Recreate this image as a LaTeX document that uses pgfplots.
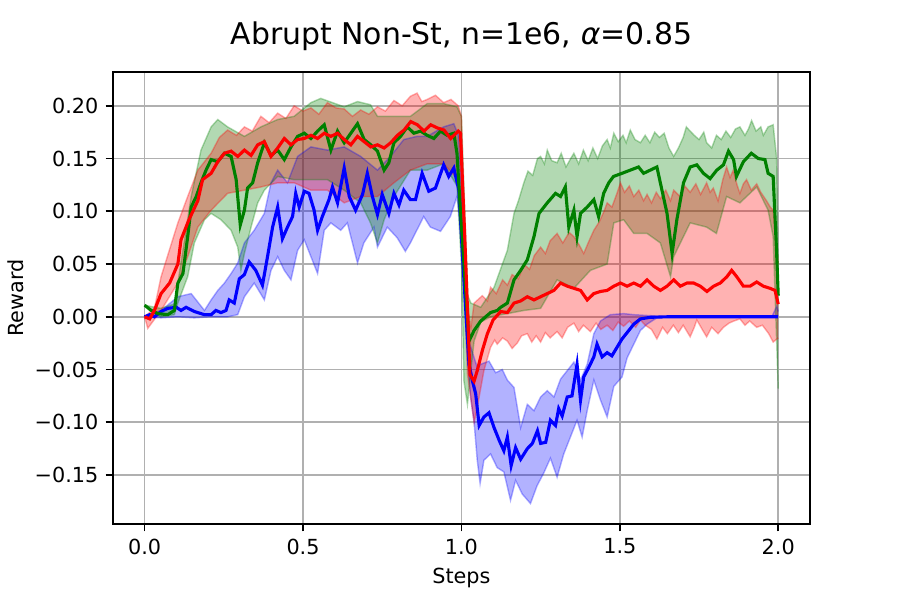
\documentclass[border=0pt]{standalone}
\usepackage{fontspec}
\setmainfont{DejaVu Sans}
\usepackage{pgfplots}
\pgfplotsset{compat=1.18}
\usepackage{pgfplotstable}
\usepgfplotslibrary{fillbetween}
\definecolor{mgreen}{rgb}{0,0.5,0}
\definecolor{gridgray}{HTML}{B0B0B0}

% ---------------- RED ----------------
\pgfplotstableread{
x y
0 0
0.016 -0.002
0.031 0.006
0.052 0.022
0.079 0.032
0.105 0.050
0.115 0.073
0.140 0.092
0.168 0.110
0.183 0.130
0.210 0.136
0.231 0.147
0.252 0.155
0.273 0.157
0.294 0.152
0.315 0.158
0.336 0.153
0.357 0.163
0.378 0.166
0.399 0.152
0.420 0.160
0.441 0.169
0.462 0.163
0.483 0.168
0.504 0.169
0.525 0.172
0.546 0.169
0.567 0.174
0.588 0.171
0.609 0.174
0.630 0.168
0.651 0.163
0.672 0.171
0.693 0.166
0.714 0.161
0.735 0.163
0.756 0.160
0.777 0.165
0.798 0.172
0.819 0.177
0.840 0.185
0.861 0.182
0.882 0.176
0.903 0.182
0.924 0.179
0.945 0.177
0.966 0.169
0.990 0.176
0.997 0.174
1.010 0.080
1.027 -0.055
1.040 -0.061
1.050 -0.051
1.066 -0.032
1.082 -0.016
1.100 -0.003
1.124 0.005
1.145 0.004
1.166 0.013
1.187 0.015
1.208 0.019
1.229 0.016
1.250 0.019
1.271 0.022
1.292 0.025
1.313 0.032
1.334 0.029
1.355 0.027
1.376 0.025
1.397 0.016
1.418 0.022
1.439 0.024
1.460 0.025
1.481 0.029
1.502 0.032
1.523 0.029
1.544 0.032
1.565 0.029
1.586 0.035
1.607 0.029
1.628 0.025
1.649 0.029
1.670 0.035
1.691 0.029
1.712 0.032
1.733 0.032
1.754 0.029
1.775 0.024
1.796 0.029
1.817 0.032
1.838 0.038
1.853 0.044
1.869 0.038
1.890 0.029
1.911 0.029
1.932 0.033
1.953 0.029
1.974 0.027
1.990 0.025
2.000 0.012
}\redM
\pgfplotstableread{
x y
0 0
0.031 0.008
0.052 0.038
0.105 0.089
0.136 0.114
0.168 0.139
0.210 0.155
0.236 0.170
0.262 0.177
0.290 0.172
0.315 0.180
0.340 0.176
0.367 0.190
0.393 0.184
0.420 0.193
0.446 0.188
0.472 0.200
0.500 0.195
0.525 0.198
0.550 0.192
0.577 0.203
0.604 0.198
0.630 0.197
0.656 0.190
0.682 0.196
0.708 0.192
0.735 0.199
0.760 0.195
0.787 0.205
0.813 0.200
0.839 0.209
0.860 0.212
0.875 0.204
0.892 0.206
0.918 0.210
0.944 0.203
0.967 0.206
0.990 0.200
1.000 0.190
1.015 0.020
1.030 -0.010
1.040 0.013
1.066 0.020
1.082 0.015
1.092 0.028
1.110 0.022
1.130 0.035
1.145 0.030
1.160 0.040
1.180 0.036
1.197 0.050
1.215 0.045
1.230 0.058
1.250 0.066
1.265 0.060
1.280 0.072
1.302 0.079
1.320 0.070
1.340 0.080
1.355 0.076
1.372 0.068
1.386 0.060
1.400 0.070
1.418 0.082
1.435 0.090
1.450 0.100
1.460 0.108
1.475 0.104
1.491 0.117
1.502 0.127
1.515 0.118
1.530 0.124
1.544 0.114
1.560 0.120
1.575 0.110
1.586 0.116
1.600 0.108
1.615 0.118
1.628 0.112
1.645 0.120
1.660 0.110
1.670 0.120
1.690 0.114
1.705 0.124
1.722 0.118
1.740 0.126
1.755 0.116
1.774 0.127
1.785 0.118
1.795 0.122
1.810 0.110
1.825 0.130
1.837 0.142
1.848 0.132
1.858 0.139
1.870 0.125
1.879 0.117
1.890 0.126
1.900 0.130
1.915 0.120
1.932 0.126
1.945 0.118
1.963 0.110
1.975 0.104
1.984 0.101
2.000 0.050
}\redH
\pgfplotstableread{
x y
0 0
0.010 -0.011
0.052 0.006
0.105 0.032
0.136 0.057
0.168 0.085
0.210 0.101
0.262 0.117
0.315 0.120
0.367 0.123
0.420 0.127
0.472 0.127
0.525 0.120
0.577 0.120
0.630 0.108
0.682 0.114
0.735 0.114
0.787 0.127
0.839 0.139
0.892 0.145
0.944 0.145
0.990 0.130
1.000 0.110
1.019 -0.054
1.040 -0.100
1.050 -0.086
1.071 -0.051
1.092 -0.029
1.105 -0.022
1.113 -0.026
1.130 -0.020
1.145 -0.023
1.160 -0.030
1.176 -0.025
1.190 -0.018
1.208 -0.016
1.222 -0.024
1.236 -0.018
1.250 -0.024
1.265 -0.015
1.280 -0.020
1.302 -0.014
1.318 -0.020
1.335 -0.010
1.355 -0.006
1.370 -0.014
1.385 -0.008
1.407 -0.014
1.425 -0.006
1.440 -0.012
1.460 -0.008
1.478 -0.013
1.495 -0.005
1.512 -0.009
1.530 -0.004
1.550 -0.010
1.565 -0.003
1.580 -0.008
1.600 -0.012
1.617 -0.021
1.635 -0.010
1.650 -0.016
1.669 -0.008
1.685 -0.015
1.700 -0.008
1.722 -0.019
1.735 -0.010
1.743 -0.003
1.760 -0.012
1.774 -0.019
1.790 -0.010
1.810 -0.016
1.827 -0.010
1.845 -0.006
1.860 -0.004
1.879 -0.002
1.895 -0.008
1.910 -0.004
1.932 -0.010
1.950 -0.008
1.970 -0.016
1.984 -0.024
2.000 -0.020
}\redL

% ---------------- GREEN ----------------
\pgfplotstableread{
x y
0 0.011
0.021 0.006
0.042 0.003
0.073 0.002
0.094 0.006
0.105 0.032
0.121 0.041
0.136 0.076
0.147 0.104
0.163 0.114
0.178 0.127
0.194 0.139
0.210 0.149
0.231 0.147
0.252 0.155
0.273 0.152
0.289 0.130
0.302 0.087
0.315 0.101
0.325 0.122
0.341 0.127
0.357 0.146
0.378 0.165
0.399 0.153
0.420 0.158
0.441 0.149
0.462 0.161
0.483 0.171
0.504 0.174
0.525 0.169
0.546 0.176
0.567 0.182
0.588 0.158
0.609 0.176
0.630 0.165
0.651 0.174
0.672 0.183
0.693 0.168
0.714 0.163
0.735 0.157
0.756 0.139
0.771 0.146
0.787 0.165
0.808 0.171
0.829 0.180
0.850 0.174
0.871 0.176
0.892 0.172
0.913 0.169
0.934 0.176
0.955 0.172
0.976 0.174
0.986 0.155
0.997 0.100
1.024 -0.023
1.040 -0.013
1.061 -0.004
1.092 0.004
1.113 0.006
1.124 0.009
1.145 0.013
1.166 0.035
1.187 0.044
1.208 0.054
1.229 0.076
1.245 0.098
1.271 0.108
1.297 0.117
1.313 0.114
1.328 0.123
1.339 0.085
1.355 0.101
1.365 0.076
1.376 0.098
1.397 0.104
1.418 0.111
1.433 0.095
1.449 0.117
1.465 0.127
1.480 0.133
1.507 0.136
1.533 0.139
1.559 0.142
1.575 0.136
1.596 0.139
1.617 0.142
1.633 0.120
1.649 0.098
1.665 0.060
1.680 0.092
1.701 0.127
1.722 0.142
1.743 0.144
1.764 0.136
1.785 0.131
1.806 0.139
1.827 0.144
1.843 0.157
1.859 0.149
1.868 0.133
1.890 0.147
1.915 0.155
1.937 0.150
1.958 0.149
1.968 0.136
1.984 0.133
1.995 0.060
2.000 0.020
}\grnM
\pgfplotstableread{
x y
0 0.011
0.050 0.008
0.094 0.012
0.105 0.032
0.147 0.114
0.178 0.158
0.210 0.180
0.231 0.187
0.262 0.180
0.315 0.171
0.367 0.180
0.420 0.187
0.472 0.190
0.525 0.203
0.556 0.207
0.630 0.199
0.672 0.204
0.713 0.201
0.735 0.190
0.787 0.190
0.839 0.190
0.892 0.202
0.944 0.202
0.986 0.199
1.000 0.190
1.020 0.020
1.030 0.013
1.061 0.009
1.103 0.028
1.145 0.063
1.166 0.098
1.180 0.110
1.197 0.127
1.210 0.138
1.225 0.134
1.240 0.150
1.250 0.152
1.262 0.145
1.271 0.158
1.285 0.148
1.302 0.146
1.315 0.155
1.330 0.142
1.345 0.150
1.355 0.155
1.370 0.145
1.385 0.158
1.400 0.148
1.415 0.160
1.430 0.150
1.445 0.162
1.460 0.168
1.470 0.160
1.481 0.174
1.495 0.166
1.510 0.172
1.520 0.165
1.533 0.177
1.548 0.168
1.565 0.165
1.580 0.172
1.595 0.165
1.610 0.175
1.625 0.170
1.640 0.174
1.655 0.160
1.670 0.152
1.685 0.160
1.700 0.170
1.710 0.180
1.722 0.176
1.735 0.172
1.750 0.168
1.765 0.175
1.774 0.165
1.790 0.160
1.805 0.172
1.820 0.168
1.835 0.176
1.850 0.170
1.865 0.178
1.879 0.180
1.895 0.172
1.906 0.178
1.916 0.186
1.930 0.176
1.945 0.180
1.953 0.172
1.968 0.180
1.984 0.182
1.995 0.150
2.000 0.030
}\grnH
\pgfplotstableread{
x y
0 0.011
0.050 0.000
0.094 0.002
0.105 0.013
0.136 0.038
0.157 0.070
0.189 0.092
0.210 0.098
0.241 0.092
0.273 0.082
0.294 0.066
0.304 0.044
0.315 0.060
0.336 0.085
0.357 0.108
0.378 0.120
0.420 0.133
0.472 0.130
0.525 0.130
0.577 0.130
0.630 0.120
0.682 0.108
0.713 0.089
0.735 0.070
0.756 0.092
0.787 0.114
0.839 0.139
0.892 0.139
0.944 0.145
0.986 0.124
1.000 0.050
1.008 -0.061
1.019 -0.083
1.030 -0.050
1.040 -0.023
1.061 -0.005
1.092 0.000
1.145 0.003
1.197 0.006
1.250 0.008
1.302 0.035
1.355 0.027
1.407 0.044
1.460 0.050
1.481 0.089
1.512 0.092
1.544 0.079
1.586 0.079
1.628 0.070
1.660 0.038
1.670 0.057
1.722 0.089
1.774 0.085
1.805 0.079
1.837 0.114
1.879 0.108
1.932 0.123
1.968 0.101
1.984 0.076
2.000 -0.068
}\grnL

% ---------------- BLUE ----------------
\pgfplotstableread{
x y
0 0
0.016 0.002
0.031 0
0.052 0.005
0.073 0.008
0.100 0.009
0.115 0.006
0.131 0.009
0.157 0.005
0.189 0.002
0.210 0.002
0.225 0.006
0.241 0.004
0.257 0.006
0.267 0.016
0.283 0.013
0.299 0.036
0.315 0.040
0.330 0.052
0.351 0.044
0.372 0.030
0.388 0.057
0.404 0.085
0.420 0.104
0.435 0.074
0.451 0.085
0.467 0.095
0.477 0.117
0.488 0.104
0.504 0.119
0.519 0.117
0.535 0.101
0.546 0.082
0.561 0.095
0.582 0.111
0.593 0.123
0.609 0.108
0.630 0.141
0.646 0.114
0.666 0.101
0.688 0.116
0.703 0.136
0.719 0.114
0.735 0.097
0.750 0.116
0.771 0.098
0.787 0.117
0.803 0.106
0.818 0.120
0.839 0.111
0.855 0.111
0.876 0.136
0.897 0.119
0.918 0.122
0.944 0.144
0.960 0.133
0.976 0.141
0.992 0.120
1.003 0.060
1.024 -0.045
1.035 -0.061
1.045 -0.073
1.056 -0.103
1.071 -0.095
1.087 -0.091
1.103 -0.105
1.119 -0.117
1.134 -0.127
1.145 -0.114
1.157 -0.141
1.171 -0.124
1.187 -0.135
1.208 -0.125
1.224 -0.120
1.240 -0.108
1.250 -0.120
1.266 -0.119
1.281 -0.098
1.297 -0.103
1.307 -0.087
1.318 -0.094
1.334 -0.076
1.349 -0.075
1.365 -0.045
1.376 -0.079
1.386 -0.057
1.402 -0.048
1.418 -0.038
1.428 -0.026
1.444 -0.038
1.460 -0.034
1.475 -0.037
1.491 -0.029
1.507 -0.021
1.523 -0.015
1.544 -0.007
1.565 -0.002
1.596 -0.0005
1.650 0
2.000 0
}\bluM
\pgfplotstableread{
x y
0 0
0.052 0.006
0.105 0.019
0.147 0.022
0.189 0.006
0.210 0.016
0.231 0.025
0.252 0.032
0.273 0.041
0.294 0.051
0.315 0.070
0.346 0.082
0.378 0.098
0.399 0.127
0.420 0.139
0.451 0.127
0.483 0.152
0.525 0.161
0.577 0.158
0.630 0.161
0.682 0.152
0.735 0.139
0.776 0.152
0.818 0.168
0.860 0.171
0.892 0.171
0.944 0.180
0.976 0.183
0.992 0.171
1.003 0.100
1.020 -0.020
1.050 -0.048
1.061 -0.045
1.087 -0.042
1.108 -0.053
1.129 -0.050
1.145 -0.060
1.166 -0.067
1.187 -0.105
1.208 -0.083
1.229 -0.089
1.250 -0.076
1.271 -0.070
1.292 -0.076
1.313 -0.059
1.334 -0.051
1.355 -0.043
1.376 -0.060
1.397 -0.045
1.418 -0.016
1.439 -0.004
1.470 0.002
1.512 0.003
1.544 0.002
1.600 0.001
1.650 0.000
1.980 0.000
1.995 0.010
2.000 0.005
}\bluH
\pgfplotstableread{
x y
0 0
0.052 -0.001
0.105 0
0.157 -0.001
0.210 0
0.262 0
0.294 0.002
0.315 0.019
0.346 0.032
0.378 0.016
0.399 0.044
0.420 0.057
0.441 0.044
0.462 0.035
0.483 0.063
0.504 0.073
0.525 0.057
0.546 0.041
0.567 0.082
0.588 0.089
0.619 0.082
0.640 0.089
0.672 0.051
0.692 0.070
0.724 0.085
0.735 0.066
0.766 0.085
0.797 0.075
0.823 0.062
0.839 0.070
0.881 0.095
0.902 0.085
0.934 0.081
0.965 0.095
0.986 0.114
1.000 0.080
1.019 -0.040
1.029 -0.076
1.040 -0.100
1.050 -0.136
1.059 -0.158
1.071 -0.136
1.092 -0.130
1.113 -0.143
1.134 -0.147
1.155 -0.174
1.171 -0.155
1.192 -0.168
1.218 -0.177
1.239 -0.160
1.260 -0.148
1.281 -0.134
1.302 -0.152
1.323 -0.130
1.344 -0.114
1.365 -0.098
1.381 -0.114
1.397 -0.089
1.418 -0.060
1.439 -0.079
1.460 -0.095
1.481 -0.066
1.507 -0.057
1.523 -0.039
1.544 -0.026
1.565 -0.013
1.586 -0.007
1.617 -0.001
1.650 0
2.000 0
}\bluL

\begin{document}
\begin{tikzpicture}
\begin{axis}[
  scale only axis,
  width=335.8pt, height=217.8pt,
  at={(0,0)}, anchor=south west,
  xmin=-0.1, xmax=2.1, ymin=-0.1965, ymax=0.232,
  axis line style={black, line width=0.8pt},
  xtick={0,0.5,1,1.5,2},
  xticklabels={0.0,0.5,1.0,1.5,2.0},
  ytick={-0.15,-0.1,-0.05,0,0.05,0.1,0.15,0.2},
  yticklabels={−0.15,−0.10,−0.05,0.00,0.05,0.10,0.15,0.20},
  tick align=outside,
  major tick length=3.5pt,
  tick style={black, line width=0.8pt},
  xtick pos=bottom, ytick pos=left,
  grid=major,
  grid style={gridgray, line width=0.8pt},
  ticklabel style={font=\fontsize{10}{12}\selectfont},
  title={Abrupt Non-St, n=1e6, \textit{α}=0.85},
  title style={at={(axis description cs:0.5,1)}, anchor=base, yshift=7.4pt, font=\fontsize{14.4}{17}\selectfont},
  xlabel={Steps},
  ylabel={Reward},
  xlabel style={at={(axis description cs:0.5,-0.12)}, anchor=center, font=\fontsize{10}{12}\selectfont},
  ylabel style={at={(axis description cs:-0.1396,0.5)}, anchor=center, font=\fontsize{10}{12}\selectfont},
]
% band boundaries
\addplot[name path=bH, draw=blue, draw opacity=0.3, line width=0.7pt] table {\bluH};
\addplot[name path=bL, draw=blue, draw opacity=0.3, line width=0.7pt] table {\bluL};
\addplot[name path=gH, draw=mgreen, draw opacity=0.3, line width=0.7pt] table {\grnH};
\addplot[name path=gL, draw=mgreen, draw opacity=0.3, line width=0.7pt] table {\grnL};
\addplot[name path=rH, draw=red, draw opacity=0.3, line width=0.7pt] table {\redH};
\addplot[name path=rL, draw=red, draw opacity=0.3, line width=0.7pt] table {\redL};
% fills
\addplot[fill=blue, fill opacity=0.3, draw=none] fill between[of=bH and bL];
\addplot[fill=mgreen, fill opacity=0.3, draw=none] fill between[of=gH and gL];
\addplot[fill=red, fill opacity=0.3, draw=none] fill between[of=rH and rL];
% mean lines
\addplot[blue, line width=1.5pt] table {\bluM};
\addplot[mgreen, line width=1.5pt] table {\grnM};
\addplot[red, line width=1.5pt] table {\redM};
\node[anchor=east, inner sep=0pt, font=\fontsize{10}{12}\selectfont] at (axis description cs:1,-0.113) {1e6};
\end{axis}
\path (-54.4pt,-36.6pt) rectangle (379.2pt,252.5pt);
\end{tikzpicture}
\end{document}
